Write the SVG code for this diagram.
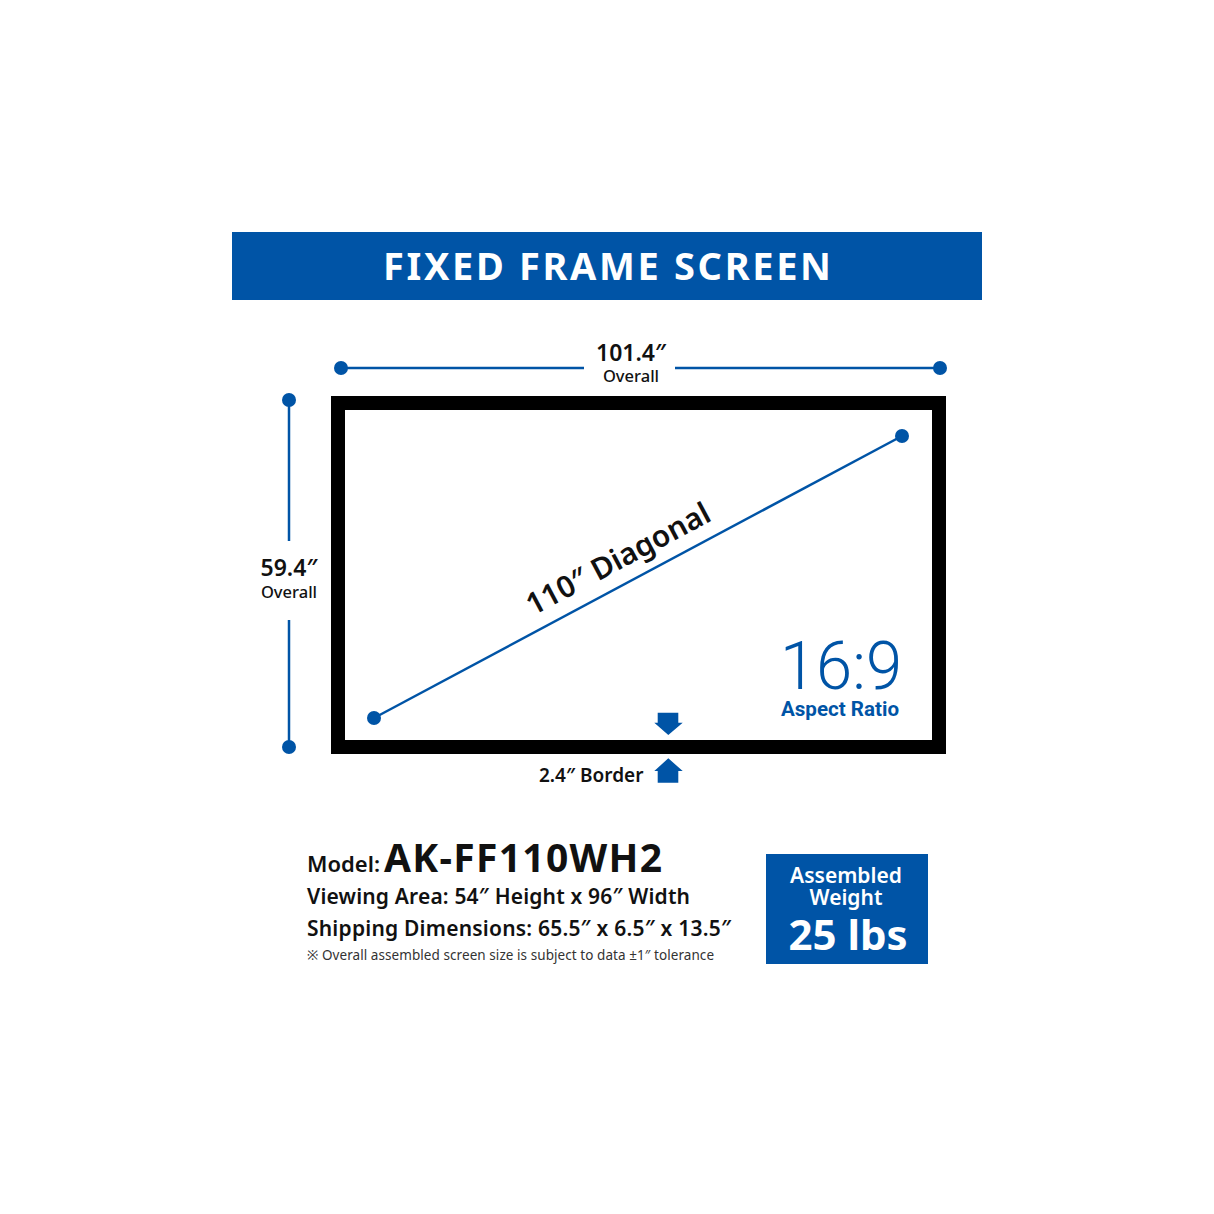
<svg xmlns="http://www.w3.org/2000/svg" width="1214" height="1214" viewBox="0 0 1214 1214">
<style>
.t{font-family:"Noto Sans","Open Sans","DejaVu Sans",sans-serif;fill:#111}
.w{fill:#fff}
.blue{fill:#0054a6}
.dim{stroke:#0054a6;stroke-width:2.5;fill:none}
.cond{font-family:Roboto,"Liberation Sans",sans-serif;fill:#0054a6}
</style>
<rect width="1214" height="1214" fill="#fff"/>
<g id="banner">
<rect x="232" y="232" width="750" height="68" class="blue"/>
<text x="607" y="280" class="t w" font-size="38" font-weight="700" text-anchor="middle" textLength="448" lengthAdjust="spacing">FIXED FRAME SCREEN</text>
</g>
<g id="screen">
<rect x="338" y="403" width="601" height="344" fill="#fff" stroke="#000" stroke-width="14"/>
</g>
<g id="connectors">
<line x1="341" y1="368" x2="584" y2="368" class="dim"/>
<line x1="675" y1="368" x2="940" y2="368" class="dim"/>
<circle cx="341" cy="368" r="7" class="blue"/>
<circle cx="940" cy="368" r="7" class="blue"/>
<line x1="289" y1="400" x2="289" y2="541" class="dim"/>
<line x1="289" y1="620" x2="289" y2="747" class="dim"/>
<circle cx="289" cy="400" r="7" class="blue"/>
<circle cx="289" cy="747" r="7" class="blue"/>
<line x1="374" y1="718" x2="902" y2="436" class="dim"/>
<circle cx="374" cy="718" r="7" class="blue"/>
<circle cx="902" cy="436" r="7" class="blue"/>
<path d="M657.7 712.7H678.3V722.7H682.7L668.3 735L654.3 722.7H657.7Z" class="blue"/>
<path d="M668.3 758.3L682.7 771H678.3V782.7H657.7V771H654.3Z" class="blue"/>
</g>
<g id="width-label">
<text x="631" y="361" class="t" font-size="23" font-weight="600" text-anchor="middle">101.4″</text>
<text x="631" y="382" class="t" font-size="16.5" font-weight="500" text-anchor="middle">Overall</text>
</g>
<g id="height-label">
<text x="289" y="576" class="t" font-size="23" font-weight="600" text-anchor="middle">59.4″</text>
<text x="289" y="598" class="t" font-size="16.5" font-weight="500" text-anchor="middle">Overall</text>
</g>
<g id="diagonal-label">
<text transform="translate(623,568) rotate(-28.1)" class="t" font-size="30" font-weight="600" text-anchor="middle">110″ Diagonal</text>
</g>
<g id="aspect">
<text x="780" y="689" class="cond" font-size="66" font-weight="300" textLength="122" lengthAdjust="spacingAndGlyphs">16:9</text>
<text x="781" y="716" class="cond" font-size="20" font-weight="700" textLength="118" lengthAdjust="spacingAndGlyphs">Aspect Ratio</text>
</g>
<g id="border-label">
<text x="539" y="782" class="t" font-size="19" font-weight="600">2.4″ Border</text>
</g>
<g id="specs">
<text x="307" y="872" class="t" font-size="22" font-weight="600">Model:</text>
<text x="384" y="872" class="t" font-size="39" font-weight="700" textLength="278" lengthAdjust="spacing">AK-FF110WH2</text>
<text x="307" y="904" class="t" font-size="21" font-weight="600" textLength="383" lengthAdjust="spacing">Viewing Area: 54″ Height x 96″ Width</text>
<text x="307" y="936" class="t" font-size="21" font-weight="600" textLength="424" lengthAdjust="spacing">Shipping Dimensions: 65.5″ x 6.5″ x 13.5″</text>
<text x="307" y="960" class="t" font-size="13.5" textLength="407" lengthAdjust="spacing" style="fill:#333">※ Overall assembled screen size is subject to data ±1″ tolerance</text>
</g>
<g id="weight">
<rect x="766" y="854" width="162" height="110" class="blue"/>
<text x="846" y="883" class="t w" font-size="21" font-weight="600" text-anchor="middle">Assembled</text>
<text x="846" y="905" class="t w" font-size="21" font-weight="600" text-anchor="middle">Weight</text>
<text x="848" y="950" class="t w" font-size="42" font-weight="700" text-anchor="middle">25 lbs</text>
</g>
</svg>
